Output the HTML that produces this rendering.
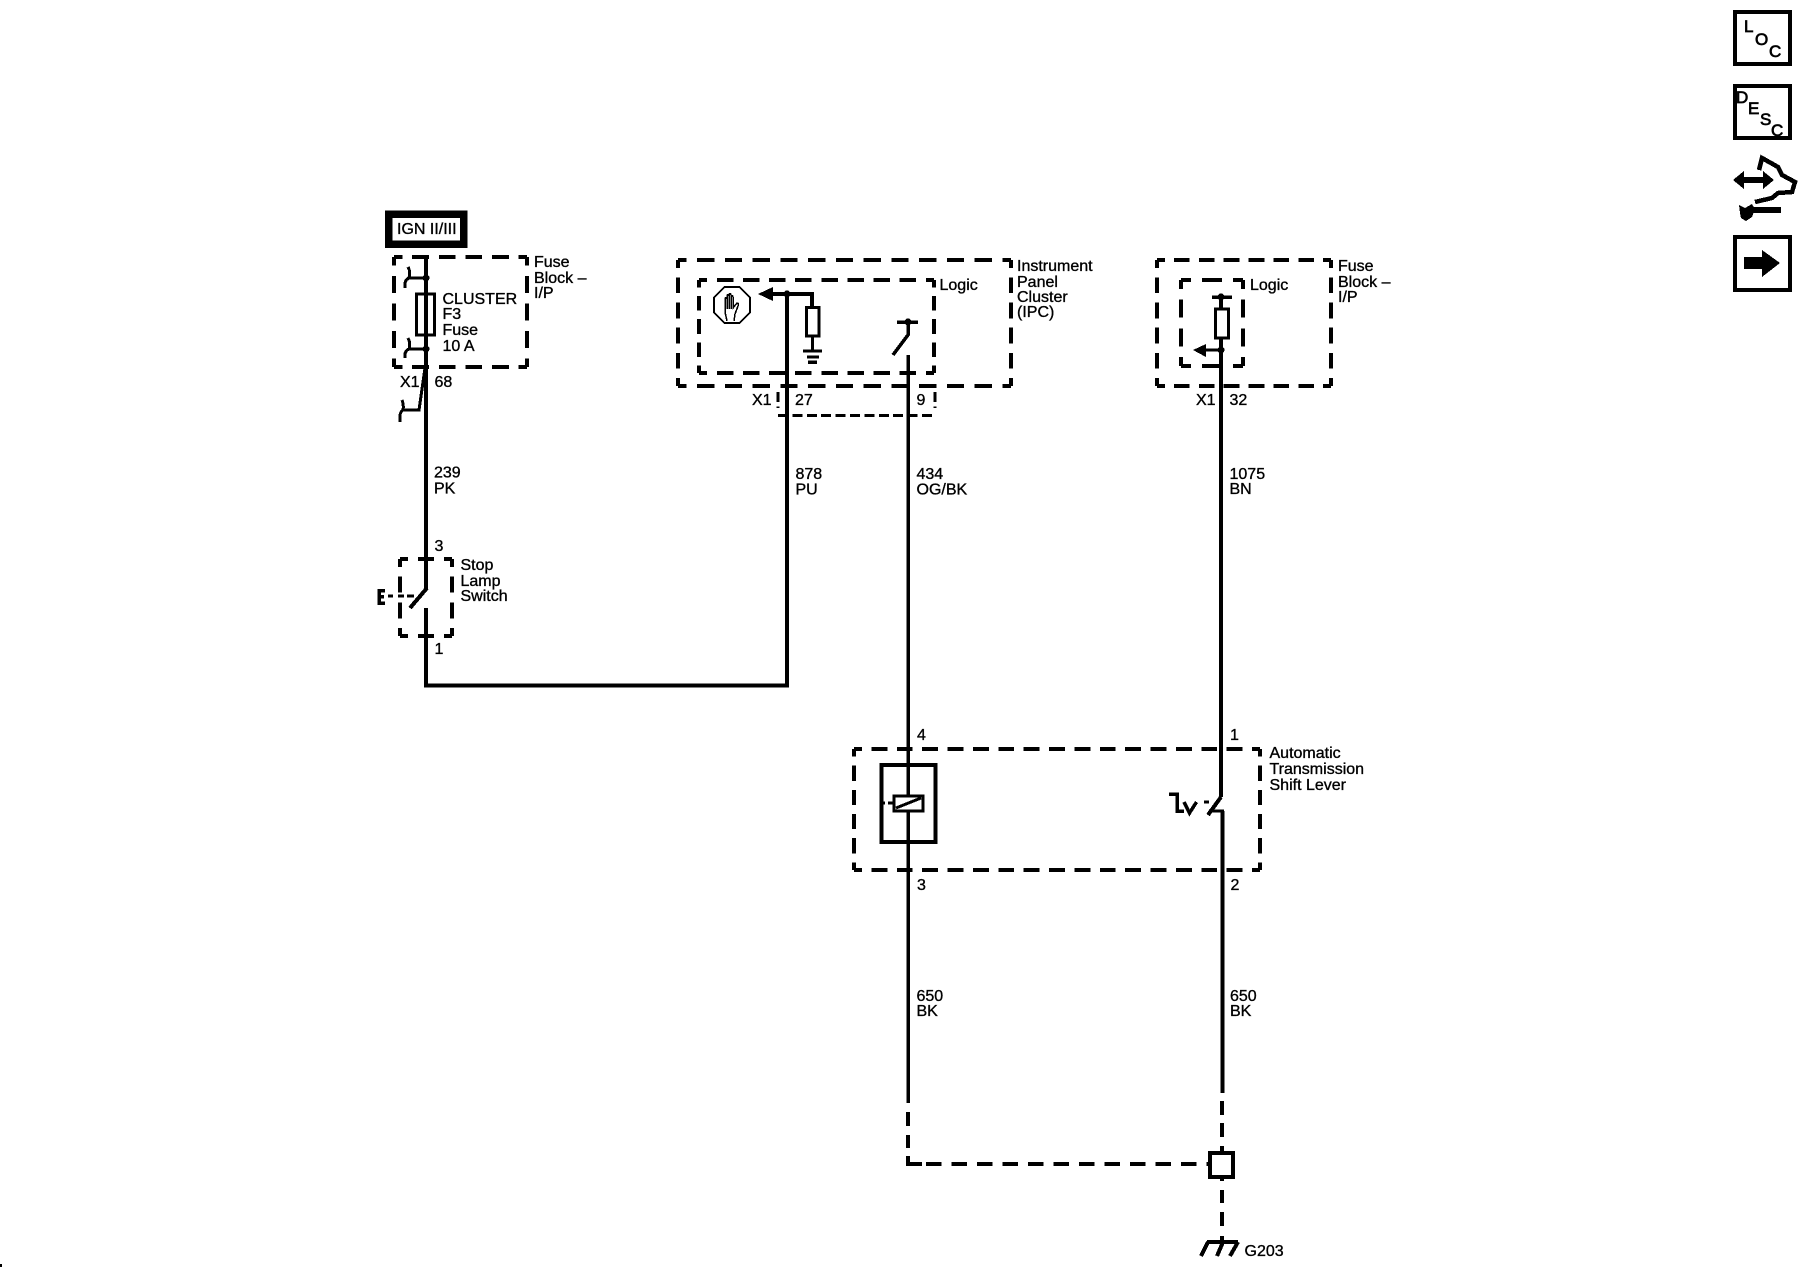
<!DOCTYPE html>
<html>
<head>
<meta charset="utf-8">
<style>
html,body{margin:0;padding:0;background:#fff;}
svg{display:block;}
text{font-family:"Liberation Sans",sans-serif;font-size:16px;fill:#000;stroke:#000;stroke-width:.35px;}
.i{font-size:17px;stroke-width:.7px;}
.w{fill:none;stroke:#000;stroke-width:4;}
.d{fill:none;stroke:#000;stroke-width:4;stroke-dasharray:17 10;stroke-dashoffset:8.5;}
.t{fill:none;stroke:#000;stroke-width:3;}
.n{fill:none;stroke:#000;stroke-width:2;}
</style>
</head>
<body>
<svg width="1800" height="1280" viewBox="0 0 1800 1280" xmlns="http://www.w3.org/2000/svg" shape-rendering="crispEdges">
<rect width="1800" height="1280" fill="#fff"/>

<!-- IGN -->
<rect x="388.500" y="214" width="75" height="30" fill="#fff" stroke="#000" stroke-width="7.500"/>
<text x="397" y="234">IGN II/III</text>

<!-- Fuse block -->
<path class="d" pathLength="135" d="M394 257H527"/><path class="d" pathLength="135" d="M394 367H527"/>
<path class="d" pathLength="108" d="M394 257V367"/><path class="d" pathLength="108" d="M527 257V367"/>
<path class="w" d="M426 257V685.500H787V294"/>
<rect x="416.500" y="294" width="18" height="41" fill="#fff" stroke="#000" stroke-width="3"/>
<path class="w" d="M426 294V335"/>
<circle cx="426" cy="278" r="3.500"/><circle cx="426" cy="349" r="3.500"/>
<path class="t" d="M426 278H409M409 278Q411 272 408 267M409 278Q404 280 405 288"/>
<path class="t" d="M426 349H409M409 349Q411 344 408 338M409 349Q404 351 405 358"/>
<path class="t" d="M425 368L419 410H403M403 410Q404 405 402 400M403 410Q399 412 400 422"/>
<text x="442.500" y="304">CLUSTER</text>
<text x="442.500" y="319">F3</text>
<text x="442.500" y="335">Fuse</text>
<text x="442.500" y="351">10 A</text>
<text x="534" y="267">Fuse</text>
<text x="534" y="283">Block –</text>
<text x="534" y="298">I/P</text>
<text x="400" y="387">X1</text>
<text x="434.500" y="387">68</text>
<text x="434" y="477.500">239</text>
<text x="434" y="493.500">PK</text>

<!-- Stop lamp switch -->
<rect x="424" y="589" width="6" height="19" fill="#fff"/>
<path class="d" pathLength="54" d="M400 559H452"/><path class="d" pathLength="54" d="M400 636H452"/>
<path class="d" pathLength="81" d="M400 559V636"/><path class="d" pathLength="81" d="M452 559V636"/>
<path class="w" d="M427 588L410 608"/>
<path class="w" d="M388 596H393M398 596H404M407 596H414" style="stroke-width:3"/>
<path class="w" d="M385 590.500H379V603H385M379 596.500H384" style="stroke-width:3.500"/>
<text x="460.500" y="570">Stop</text>
<text x="460.500" y="586">Lamp</text>
<text x="460.500" y="601">Switch</text>
<text x="434.500" y="551">3</text>
<text x="434.500" y="654">1</text>

<!-- IPC -->
<path class="d" pathLength="324" d="M678 260H1011"/><path class="d" pathLength="324" d="M678 386H1011"/>
<path class="d" pathLength="135" d="M678 260V386"/><path class="d" pathLength="135" d="M1011 260V386"/>
<path class="d" pathLength="243" d="M699 280H934"/><path class="d" pathLength="243" d="M699 373H934"/>
<path class="d" pathLength="108" d="M699 280V373"/><path class="d" pathLength="108" d="M934 280V373"/>
<path class="t" style="stroke-dasharray:10 4.400" d="M778 392V408M935 392V408"/>
<path class="t" style="stroke-dasharray:10 4.400" d="M778 415.500H935"/>
<polygon points="724.500,287 739.500,287 750,297.500 750,312.500 739.500,323 724.500,323 714,312.500 714,297.500" fill="#fff" stroke="#000" stroke-width="2"/>
<path class="n" style="stroke-width:1.500" d="M727 321L725 312V299Q726 296 727 299V309M727 299V296Q728 293 729 296V309M729 296V295Q730 292 731 295V309M731 296V297Q732 294 733 297V308L737 303Q739 303 738 306L735 314L734 321"/>
<path class="w" d="M772 294H812V307"/>
<polygon points="758,294 773,287 773,301"/>
<circle cx="787" cy="294" r="3.500"/>
<rect x="806.500" y="307.500" width="12.500" height="28.500" fill="#fff" stroke="#000" stroke-width="3"/>
<path class="t" d="M812.500 336V351"/>
<path class="t" d="M803 351H822M807 357H819"/>
<path class="t" d="M808 362H817" style="stroke-width:3.500"/>
<path class="w" style="stroke-width:3.500" d="M897 322H918"/>
<circle cx="908" cy="322" r="3.500"/>
<path class="w" style="stroke-width:3.500" d="M908 322V335L893 355"/>
<text x="1017" y="271">Instrument</text>
<text x="1017" y="287">Panel</text>
<text x="1017" y="302">Cluster</text>
<text x="1017" y="317">(IPC)</text>
<text x="939.500" y="290">Logic</text>
<text x="752" y="405">X1</text>
<text x="795" y="405">27</text>
<text x="916.500" y="405">9</text>
<text x="795.500" y="479">878</text>
<text x="795.500" y="494.500">PU</text>
<text x="916.500" y="479">434</text>
<text x="916.500" y="494.500">OG/BK</text>

<!-- Left signal wire (434 / 650) -->
<path class="w" style="stroke-width:3.500" d="M908 355V1103"/>
<path class="w" d="M908 1112V1126M908 1135V1148M908 1156V1164H922"/>
<path class="w" style="stroke-dasharray:15.500 10" d="M926 1164H1210"/>

<!-- Right fuse block -->
<path class="d" pathLength="189" d="M1157 260H1331"/><path class="d" pathLength="189" d="M1157 386H1331"/>
<path class="d" pathLength="135" d="M1157 260V386"/><path class="d" pathLength="135" d="M1331 260V386"/>
<path class="d" pathLength="54" d="M1181 280H1243"/><path class="d" pathLength="54" d="M1181 366H1243"/>
<path class="d" pathLength="81" d="M1181 280V366"/><path class="d" pathLength="81" d="M1243 280V366"/>
<path class="w" d="M1221 297V797"/>
<path class="w" style="stroke-width:3.500" d="M1212 297H1232"/>
<circle cx="1221" cy="297" r="3.500"/>
<rect x="1215.500" y="309" width="13" height="29" fill="#fff" stroke="#000" stroke-width="3"/>
<circle cx="1221" cy="350" r="3.500"/>
<path class="t" d="M1205 350H1221"/>
<polygon points="1193,350 1206,344 1206,357"/>
<text x="1250" y="290">Logic</text>
<text x="1338" y="271">Fuse</text>
<text x="1338" y="287">Block –</text>
<text x="1338" y="302">I/P</text>
<text x="1196" y="405">X1</text>
<text x="1229.500" y="405">32</text>
<text x="1229.500" y="479">1075</text>
<text x="1229.500" y="494">BN</text>

<!-- Shift lever -->
<path class="d" pathLength="432" d="M854 749H1260"/><path class="d" pathLength="432" d="M854 870H1260"/>
<path class="d" pathLength="135" d="M854 749V870"/><path class="d" pathLength="135" d="M1260 749V870"/>
<rect x="881.500" y="765" width="54" height="77" fill="#fff" stroke="#000" stroke-width="4"/>
<path class="w" style="stroke-width:3.500" d="M908 765V842"/>
<rect x="894" y="796" width="29" height="15" fill="#fff" stroke="#000" stroke-width="3"/>
<path class="t" d="M896 808L921 798"/>
<path class="t" d="M883 803H885M888 803H893"/>
<path class="w" d="M1221 797L1208 815"/>
<path class="t" d="M1209 811H1224"/>
<path class="w" d="M1222.500 811V1093"/>
<path class="w" style="stroke-width:3.500" d="M1169 794H1177V811H1184M1184 802L1189.500 813L1196.500 802"/>
<path class="t" d="M1204 802H1209"/>
<text x="1269.500" y="758">Automatic</text>
<text x="1269.500" y="774">Transmission</text>
<text x="1269.500" y="790">Shift Lever</text>
<text x="917" y="740">4</text>
<text x="1230" y="740">1</text>
<text x="917" y="890">3</text>
<text x="1230.500" y="890">2</text>
<text x="916.500" y="1001">650</text>
<text x="916.500" y="1016">BK</text>
<text x="1230" y="1001">650</text>
<text x="1230" y="1016">BK</text>

<!-- Ground -->
<path class="w" d="M1222 1101V1115M1222 1123V1137M1222 1146V1152M1222 1177V1181M1222 1190V1203M1222 1212V1226M1222 1236V1242"/>
<rect x="1210" y="1153" width="23" height="24" fill="#fff" stroke="#000" stroke-width="4"/>
<path class="w" d="M1207 1242H1238"/>
<path class="w" d="M1208 1242L1201 1256M1223 1242L1217 1256M1238 1242L1230 1256"/>
<text x="1244.500" y="1256">G203</text>

<!-- Right icons -->
<rect x="1735" y="12" width="55" height="52" fill="#fff" stroke="#000" stroke-width="4"/>
<text class="i" x="1744" y="32">L</text>
<text class="i" x="1755" y="45">O</text>
<text class="i" x="1769" y="57">C</text>
<rect x="1735" y="86" width="55" height="52" fill="#fff" stroke="#000" stroke-width="4"/>
<text class="i" x="1736" y="103">D</text>
<text class="i" x="1748" y="114">E</text>
<text class="i" x="1760" y="125">S</text>
<text class="i" x="1771" y="136">C</text>
<path class="w" style="stroke-width:6" d="M1741 180H1766"/>
<polygon points="1733,180 1744,171 1744,189"/>
<polygon points="1774,180 1763,171 1763,189"/>
<path class="w" style="stroke-width:4.500" d="M1759 170L1762 158L1778 167L1782 175L1795 182L1792 192L1778 193L1772 198L1755 202"/>
<path class="w" style="stroke-width:6" d="M1748 210H1781"/>
<path d="M1739 205L1745 208L1752 204L1755 209L1752 217L1746 221L1741 218L1740 213Z"/>
<rect x="1735" y="237" width="55" height="53" fill="#fff" stroke="#000" stroke-width="4"/>
<polygon points="1744,257 1762,257 1762,250 1780,263 1762,277 1762,269 1744,269"/>

<rect x="0" y="1264" width="2" height="3"/>
</svg>
</body>
</html>
